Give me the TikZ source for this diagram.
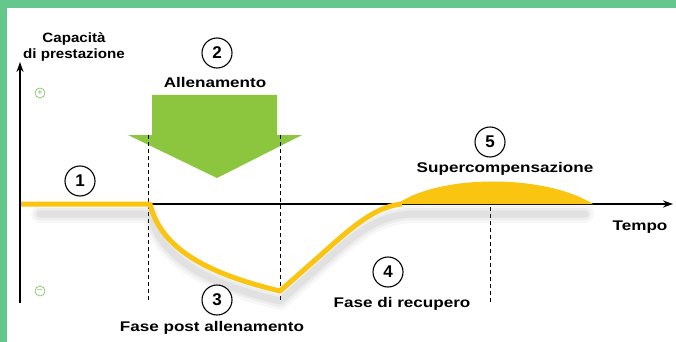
\documentclass[tikz,border=0pt]{standalone}
\usepackage{fontspec}
\setmainfont{Liberation Sans}
\newfontfamily\widesans[FakeStretch=1.22]{Liberation Sans}
\newfontfamily\midsans[FakeStretch=1.12]{Liberation Sans}
\usetikzlibrary{arrows.meta}
\definecolor{frame}{RGB}{102,199,140}
\definecolor{curve}{RGB}{249,197,17}
\definecolor{arrowgreen}{RGB}{140,198,63}
\definecolor{signgreen}{RGB}{120,190,90}
\tikzset{
  lbl/.style={font=\widesans\bfseries\fontsize{14}{16}\selectfont, inner sep=0pt},
  ylbl/.style={font=\midsans\bfseries\fontsize{13.5}{16.5}\selectfont, inner sep=0pt},
  num/.style={circle, draw=black, line width=1.1pt, fill=white, minimum size=30pt, inner sep=0pt, font=\bfseries\fontsize{17}{17}\selectfont},
  sign/.style={circle, draw=signgreen, line width=0.6pt, minimum size=10pt, inner sep=0pt, text=signgreen, font=\fontsize{9}{9}\selectfont},
  guide/.style={black, line width=0.6pt, dash pattern=on 4pt off 3pt},
  axis/.style={black, -{Stealth[length=10pt,width=7pt]}},
  shade/.style={gray, line cap=round, line join=round}
}
\begin{document}
\begin{tikzpicture}[x=1pt,y=-1pt]
\useasboundingbox (0,0) rectangle (676,342);
\fill[frame] (0,0) rectangle (676,342);
\fill[white] (7,8) rectangle (676,342);
% green arrow
\fill[arrowgreen] (152,95) -- (277,95) -- (277,135) -- (302,135) -- (217,178) -- (128,135) -- (152,135) -- cycle;
% dashed guides
\coordinate (g1t) at (148,135); \coordinate (g1b) at (148,300);
\coordinate (g2t) at (280,135); \coordinate (g2b) at (280,300);
\coordinate (g3t) at (490,207); \coordinate (g3b) at (490,303);
\draw[guide] (g1t) -- (g1b);
\draw[guide] (g2t) -- (g2b);
\draw[guide] (g3t) -- (g3b);
% shadows
\foreach \w/\o in {18/0.06,12/0.08,7/0.11}{
  \draw[shade, line width=\w pt, opacity=\o] (40,214) -- (150,214) .. controls (160,255) and (200,282) .. (280,301) -- (332,255) .. controls (360,230) and (380,216) .. (410,214) -- (585,214);
}
% axes
\coordinate (origin) at (20,303);
\coordinate (ytip) at (20,62);
\coordinate (xstart) at (20,204);
\coordinate (xtip) at (673,204);
\draw[axis, line width=2pt] (origin) -- (ytip);
\draw[axis, line width=1.3pt] (xstart) -- (xtip);
% yellow curve
\draw[curve, line width=5pt, line join=round] (21,204) -- (150,204) .. controls (160,245) and (200,272) .. (280,291) -- (332,245) .. controls (360,220) and (380,206) .. (402,204);
\fill[curve] (397,204) .. controls (440,174) and (545,174) .. (593,204) -- cycle;
% signs
\node[sign] (plus) at (40,93) {+};
\node[sign] (minus) at (40,291) {\raisebox{0.3pt}{–}};
% labels
\node[ylbl, align=center] (ylab) at (74,47) {Capacità\\di prestazione};
\node[num] (n2) at (217,53) {2};
\node[lbl] (allen) at (215,82) {Allenamento};
\node[num] (n1) at (80,181) {1};
\node[num] (n3) at (217,300) {3};
\node[lbl] (post) at (212,328) {Fase post allenamento};
\node[num] (n4) at (388,272) {4};
\node[lbl] (recup) at (402,304) {Fase di recupero};
\node[num] (n5) at (490,142) {5};
\node[lbl] (super) at (505,169) {Supercompensazione};
\node[lbl] (tempo) at (640,227) {Tempo};
\end{tikzpicture}
\end{document}
